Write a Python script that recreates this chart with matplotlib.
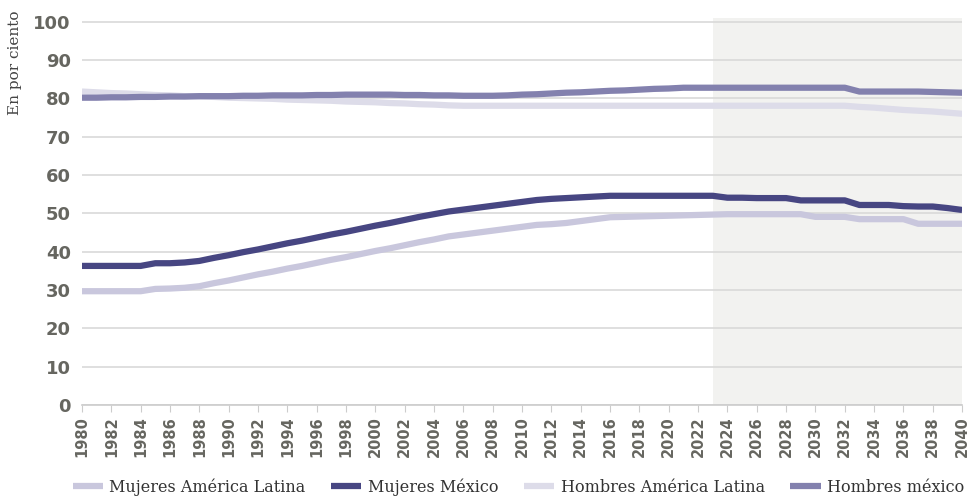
import matplotlib.pyplot as plt
import numpy as np

years = list(range(1980, 2041))

# Mujeres América Latina
mujeres_al = [29.7, 29.7, 29.7, 29.7, 29.7, 30.3, 30.4, 30.6, 31.0, 31.8,
              32.5, 33.3, 34.1, 34.8, 35.6, 36.3, 37.1, 37.9, 38.6, 39.4,
              40.2, 40.9, 41.7, 42.5, 43.2, 44.0, 44.5, 45.0, 45.5, 46.0,
              46.5, 47.0, 47.2, 47.5, 48.0, 48.5, 49.0, 49.1, 49.2, 49.3,
              49.4, 49.5, 49.6, 49.7, 49.8, 49.8, 49.8, 49.8, 49.8, 49.8,
              49.1, 49.1, 49.1, 48.5, 48.5, 48.5, 48.5, 47.3, 47.3, 47.3, 47.3]

# Mujeres México
mujeres_mx = [36.3, 36.3, 36.3, 36.3, 36.3, 37.0, 37.0, 37.2, 37.6, 38.4,
              39.1, 39.9, 40.6, 41.4, 42.2, 42.9, 43.7, 44.5, 45.2, 46.0,
              46.8, 47.5, 48.3, 49.1, 49.8, 50.5, 51.0, 51.5, 52.0, 52.5,
              53.0, 53.5, 53.8, 54.0, 54.2, 54.4, 54.6, 54.6, 54.6, 54.6,
              54.6, 54.6, 54.6, 54.6, 54.1, 54.1, 54.0, 54.0, 54.0, 53.4,
              53.4, 53.4, 53.4, 52.2, 52.2, 52.2, 51.9, 51.8, 51.8, 51.4, 50.9]

# Hombres América Latina
hombres_al = [81.8, 81.6, 81.4, 81.3, 81.1, 80.9, 80.8, 80.6, 80.5, 80.4,
              80.2, 80.1, 80.0, 79.9, 79.7, 79.6, 79.5, 79.4, 79.2, 79.1,
              79.0, 78.8, 78.7, 78.5, 78.4, 78.2, 78.1, 78.1, 78.1, 78.1,
              78.1, 78.1, 78.1, 78.1, 78.1, 78.1, 78.1, 78.1, 78.1, 78.1,
              78.1, 78.1, 78.1, 78.1, 78.1, 78.1, 78.1, 78.1, 78.1, 78.1,
              78.1, 78.1, 78.1, 77.8, 77.6, 77.3, 77.0, 76.8, 76.6, 76.3, 76.0]

# Hombres méxico
hombres_mx = [80.2, 80.2, 80.3, 80.3, 80.4, 80.4, 80.5, 80.5, 80.6, 80.6,
              80.6, 80.7, 80.7, 80.8, 80.8, 80.8, 80.9, 80.9, 81.0, 81.0,
              81.0, 81.0, 80.9, 80.9, 80.8, 80.8, 80.7, 80.7, 80.7, 80.8,
              81.0, 81.1, 81.3, 81.5, 81.6, 81.8, 82.0, 82.1, 82.3, 82.5,
              82.6, 82.8, 82.8, 82.8, 82.8, 82.8, 82.8, 82.8, 82.8, 82.8,
              82.8, 82.8, 82.8, 81.8, 81.8, 81.8, 81.8, 81.8, 81.7, 81.6, 81.5]

series = [
    ("Mujeres América Latina", mujeres_al, "#c9c7dd"),
    ("Mujeres México", mujeres_mx, "#474682"),
    ("Hombres América Latina", hombres_al, "#dddce9"),
    ("Hombres méxico", hombres_mx, "#8381ae"),
]

fig = plt.figure(figsize=(9.69, 4.98), dpi=100)
ax = fig.add_axes([0.0846, 0.1867, 0.9083, 0.7772])

# zona de proyección
ax.axvspan(2023, 2041, color="#f2f2f0", zorder=0, lw=0)

for nombre, vals, col in series:
    ax.plot(years, vals, color=col, lw=4.5, label=nombre, solid_capstyle="butt", zorder=3)

ax.set_xlim(1980, 2040)
ax.set_ylim(0, 101)
ax.set_yticks(range(0, 101, 10))
ax.set_xticks(range(1980, 2041, 2))
ax.set_xticklabels([str(y) for y in range(1980, 2041, 2)], rotation=90)
ax.yaxis.grid(True, color="#d9d9d9", lw=1.2, zorder=1)
ax.set_axisbelow(True)

for s in ["top", "right", "left"]:
    ax.spines[s].set_visible(False)
ax.spines["bottom"].set_color("#cccccc")
ax.spines["bottom"].set_linewidth(1.2)
ax.tick_params(axis="y", length=0, labelsize=13, labelcolor="#666660", pad=8)
ax.tick_params(axis="x", length=5, color="#cccccc", labelsize=10.5, labelcolor="#666660", pad=3)
for lab in ax.get_yticklabels():
    lab.set_fontweight("bold")
for lab in ax.get_xticklabels():
    lab.set_fontweight("bold")

ax.set_ylabel("En por ciento", family="DejaVu Serif", fontsize=11, color="#444444")
ax.yaxis.set_label_coords(-0.068, 0.885)

fig.legend(loc="lower center", bbox_to_anchor=(0.535, -0.025), ncol=4, frameon=False,
           prop={"family": "DejaVu Serif", "size": 11.5}, handlelength=1.9,
           handletextpad=0.4, columnspacing=1.6, labelcolor="#333333")

plt.savefig("out.png", dpi=100)
